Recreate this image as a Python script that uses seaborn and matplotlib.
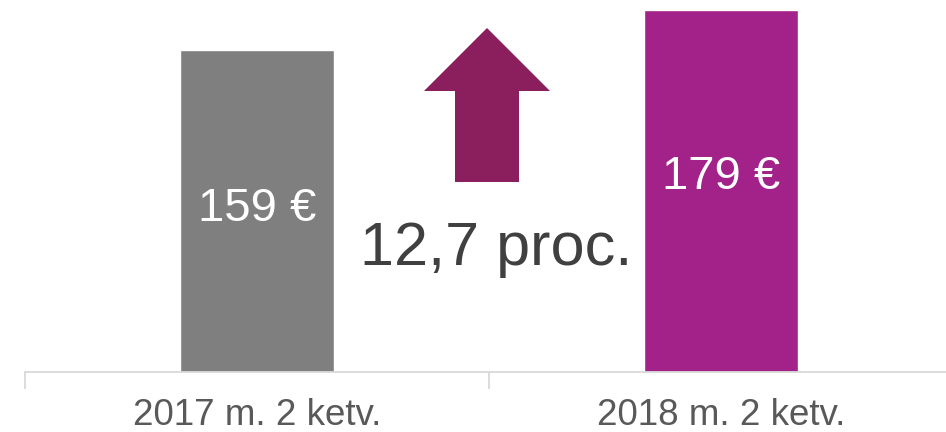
import matplotlib
matplotlib.use("Agg")
import matplotlib.pyplot as plt
import seaborn as sns
import pandas as pd
from matplotlib.patches import Polygon

categories = ["2017 m. 2 ketv.", "2018 m. 2 ketv."]
values = [159, 179]
value_labels = ["159 €", "179 €"]
change_label = "12,7 proc."
bar_colors = ["#7F7F7F", "#A2228A"]

sns.set_style("white")
plt.rcParams["font.family"] = ["Liberation Sans", "DejaVu Sans"]

W, H = 946, 432
fig = plt.figure(figsize=(W / 100, H / 100), dpi=100)
ax = fig.add_axes([25 / W, 60 / H, 921 / W, 372 / H])

df = pd.DataFrame({"cat": categories, "val": values})
sns.barplot(data=df, x="cat", y="val", hue="cat", palette=bar_colors,
            width=0.334, legend=False, ax=ax, saturation=1)

ax.set_xlabel("")
ax.set_ylabel("")
ax.set_yticks([])
for s in ["top", "right", "left"]:
    ax.spines[s].set_visible(False)
ax.spines["bottom"].set_color("#D9D9D9")
ax.spines["bottom"].set_linewidth(1.3)

# category boundary ticks and centered labels
ax.set_xticks([-0.5, 0.5, 1.5])
ax.set_xticklabels(["", "", ""])
ax.tick_params(axis="x", which="major", length=12, width=1.3, color="#D9D9D9",
               direction="out", bottom=True)
ax.set_xticks([0, 1], minor=True)
ax.set_xticklabels(categories, minor=True)
ax.tick_params(axis="x", which="minor", length=0, pad=19, labelsize=26.5,
               labelcolor="#595959")

ax.set_xlim(-0.5, -0.5 + 921 / 464)
ax.set_ylim(0, 372 / 2.024)

# value labels inside bars
label_y = [80.5, 96.5]
for i, (lab, yy) in enumerate(zip(value_labels, label_y)):
    ax.text(i, yy, lab, ha="center", va="center", color="white", fontsize=34)

# up arrow
pts = [(424, 91), (487, 28), (550, 91), (519, 91), (519, 182), (455, 182), (455, 91)]
poly = Polygon([(x / W, 1 - y / H) for x, y in pts], closed=True,
               transform=fig.transFigure, facecolor="#8B1F5E", edgecolor="none")
fig.patches.append(poly)

fig.text(496.5 / W, 1 - 249 / H, change_label, ha="center", va="center",
         fontsize=44, color="#404040")

fig.savefig("out.png", dpi=100)
